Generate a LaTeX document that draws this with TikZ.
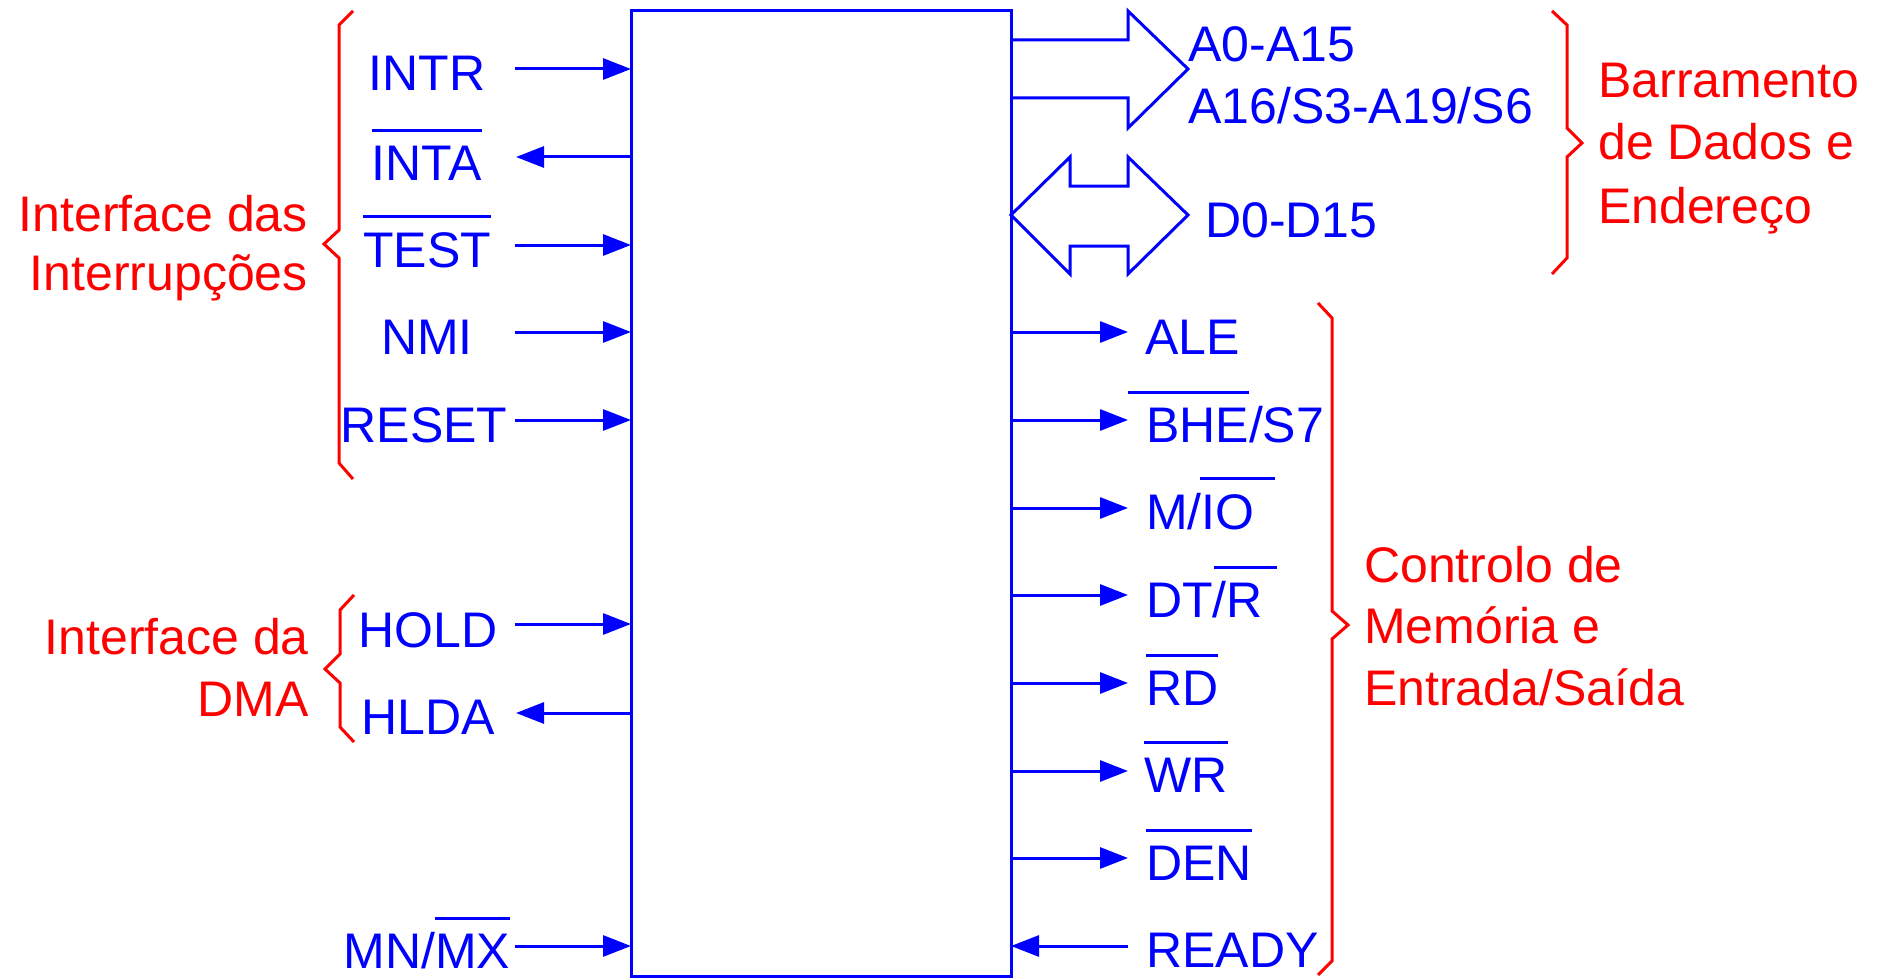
\documentclass[tikz,border=0pt]{standalone}
\usepackage{fontspec}
\setmainfont{Liberation Sans}
\usetikzlibrary{arrows.meta}
\definecolor{sigblue}{RGB}{0,0,255}
\definecolor{grpred}{RGB}{255,0,0}
\newcommand\ovl[1]{\leavevmode\vbox{\hrule height 3pt\kern 14pt\hbox{#1}}}
% overline extended by #1 on the left and #3 on the right, text not shifted
\newcommand\ovlx[3]{\leavevmode\kern-#1\vbox{\hrule height 3pt\kern 14pt\hbox{\kern#1#2\kern#3}}\kern-#3}
\begin{document}
\begin{tikzpicture}[x=1pt,y=-1pt,
  sig/.style={draw=sigblue, line width=3pt, -{Triangle[length=28pt,width=21pt]}},
  bus/.style={draw=sigblue, line width=3pt, line join=miter},
  lab/.style={text=sigblue, inner sep=0pt, font=\fontsize{50}{60}\selectfont},
  grp/.style={text=grpred, inner sep=0pt, font=\fontsize{50}{60}\selectfont},
  brace/.style={draw=grpred, line width=3pt, line join=miter}]
\fill[white] (0,0) rectangle (1885,979);
\useasboundingbox (0,0) rectangle (1885,979);

% chip
\node[draw=sigblue, line width=3pt, minimum width=380pt, minimum height=965pt,
      inner sep=0pt, outer sep=0pt] (chip) at (821,493.5) {};

% left labels
\node[lab, anchor=base] (tINTR)  at (427,91)  {INTR};
\node[lab, anchor=base] (tINTA)  at (427,180) {\ovl{INTA}};
\node[lab, anchor=base] (tTEST)  at (427,267) {\ovl{TEST}};
\node[lab, anchor=base] (tNMI)   at (427,354) {NMI};
\node[lab, anchor=base] (tRESET) at (424,442) {RESET};
\node[lab, anchor=base] (tHOLD)  at (428,647) {HOLD};
\node[lab, anchor=base] (tHLDA)  at (428,734) {HLDA};
\node[lab, anchor=base] (tMNMX)  at (427,968) {MN/\ovl{MX}};

% left connectors
\coordinate (sINTR)  at (515,69);
\coordinate (sINTA)  at (516,157);
\coordinate (sTEST)  at (515,245);
\coordinate (sNMI)   at (515,332);
\coordinate (sRESET) at (515,420);
\coordinate (sHOLD)  at (515,624);
\coordinate (sHLDA)  at (516,713);
\coordinate (sMNMX)  at (515,946);
\draw[sig] (sINTR)  -- (sINTR -| chip.west);
\draw[sig] (sINTA -| chip.west) -- (sINTA);
\draw[sig] (sTEST)  -- (sTEST -| chip.west);
\draw[sig] (sNMI)   -- (sNMI -| chip.west);
\draw[sig] (sRESET) -- (sRESET -| chip.west);
\draw[sig] (sHOLD)  -- (sHOLD -| chip.west);
\draw[sig] (sHLDA -| chip.west) -- (sHLDA);
\draw[sig] (sMNMX)  -- (sMNMX -| chip.west);

% right labels
\node[lab, anchor=base west] (tALE)   at (1145,354) {ALE};
\node[lab, anchor=base west] (tBHE)   at (1146,442) {\ovlx{18pt}{BHE}{0pt}/S7};
\node[lab, anchor=base west] (tMIO)   at (1146,529) {M/\ovlx{2pt}{IO}{20pt}};
\node[lab, anchor=base west] (tDTR)   at (1146,617) {DT/\ovlx{13pt}{R}{14pt}};
\node[lab, anchor=base west] (tRD)    at (1146,705) {\ovl{RD}};
\node[lab, anchor=base west] (tWR)    at (1144,792) {\ovl{WR}};
\node[lab, anchor=base west] (tDEN)   at (1146,880) {\ovl{DEN}};
\node[lab, anchor=base west] (tREADY) at (1146,967) {READY};

% right connectors
\coordinate (eALE)   at (1128,332);
\coordinate (eBHE)   at (1128,420);
\coordinate (eMIO)   at (1128,508);
\coordinate (eDTR)   at (1128,595);
\coordinate (eRD)    at (1128,683);
\coordinate (eWR)    at (1128,771);
\coordinate (eDEN)   at (1128,858);
\coordinate (eREADY) at (1128,946);
\draw[sig] (eALE -| chip.east) -- (eALE);
\draw[sig] (eBHE -| chip.east) -- (eBHE);
\draw[sig] (eMIO -| chip.east) -- (eMIO);
\draw[sig] (eDTR -| chip.east) -- (eDTR);
\draw[sig] (eRD -| chip.east)  -- (eRD);
\draw[sig] (eWR -| chip.east)  -- (eWR);
\draw[sig] (eDEN -| chip.east) -- (eDEN);
\draw[sig] (eREADY) -- (eREADY -| chip.east);

% bus arrows
\draw[bus] (1011,40) -- (1128,40) -- (1128,11) -- (1188,69) -- (1128,128)
           -- (1128,98) -- (1011,98);
\draw[bus] (1011,215) -- (1070,157) -- (1070,186) -- (1128,186) -- (1128,157)
           -- (1188,215) -- (1128,274) -- (1128,246) -- (1070,246) -- (1070,274) -- cycle;
\node[lab, anchor=base west] (tA0)  at (1188,62)  {A0-A15};
\node[lab, anchor=base west] (tA16) at (1188,124) {A16/S3-A19/S6};
\node[lab, anchor=base west] (tD0)  at (1205,237) {D0-D15};

% braces
\draw[brace] (353,11) -- (339,25) -- (339,230) -- (324,244) -- (339,258)
             -- (339,463) -- (353,479);
\draw[brace] (354,595) -- (340,610) -- (340,654) -- (325,669) -- (340,683)
             -- (340,727) -- (354,742);
\draw[brace] (1552,11) -- (1567,25) -- (1567,128) -- (1582,143) -- (1567,157)
             -- (1567,258) -- (1552,274);
\draw[brace] (1318,303) -- (1332,318) -- (1332,611) -- (1348,625) -- (1332,639)
             -- (1332,961) -- (1318,975);

% group labels
\node[grp, anchor=base east] (gIrq1) at (308,231) {Interface das};
\node[grp, anchor=base east] (gIrq2) at (308,290) {Interrupções};
\node[grp, anchor=base east] (gDma1) at (309,654) {Interface da};
\node[grp, anchor=base east] (gDma2) at (309,716) {DMA};
\node[grp, anchor=base west] (gBus1) at (1598,98)  {Barramento};
\node[grp, anchor=base west] (gBus2) at (1598,160) {de Dados e};
\node[grp, anchor=base west] (gBus3) at (1598,223) {Endereço};
\node[grp, anchor=base west] (gCtl1) at (1364,582) {Controlo de};
\node[grp, anchor=base west] (gCtl2) at (1364,643) {Memória e};
\node[grp, anchor=base west] (gCtl3) at (1364,705) {Entrada/Saída};
\end{tikzpicture}
\end{document}
